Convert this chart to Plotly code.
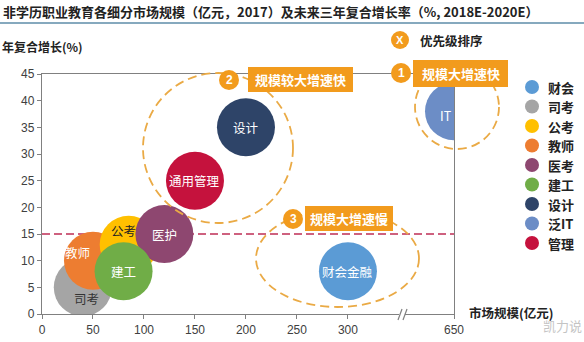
import plotly.graph_objects as go

# ---------------- data ----------------
legend_names = ["财会", "司考", "公考", "教师", "医考", "建工", "设计", "泛IT", "管理"]
bubble_labels = ["财会金融", "司考", "公考", "教师", "医护", "建工", "设计", "IT", "通用管理"]
market_size = [300, 40, 85, 50, 120, 80, 200, 650, 150]      # 亿元, 2017
cagr = [8, 5, 13, 10, 15, 8, 35, 38, 25]                     # %, 2018E-2020E
colors = ["#5B9BD5", "#A5A5A5", "#FFC000", "#ED7D31", "#8E4770",
          "#70AD47", "#2E4468", "#6C8DC6", "#C5123D"]
label_colors = ["white", "#333333", "#222222", "white", "white",
                "white", "white", "white", "white"]
x_ticks = [0, 50, 100, 150, 200, 250, 300, 650]
y_ticks = [0, 5, 10, 15, 20, 25, 30, 35, 40, 45]
threshold = 15
groups = ["规模大增速快", "规模较大增速快", "规模大增速慢"]
group_ranks = ["1", "2", "3"]

title_text = "非学历职业教育各细分市场规模（亿元，2017）及未来三年复合增长率（%, 2018E-2020E）"

# ---------------- layout constants ----------------
W, H = 584, 342
ML, MR, MT, MB = 42, 130, 74, 28
PW, PH = W - ML - MR, H - MT - MB
BREAK_START, BREAK_END, BREAK_SPAN = 350, 650, 54
FONT = "Noto Sans CJK SC"
ORANGE = "#F29B1D"
DASH_ORANGE = "#EAAA45"


def axis_pos(v):
    """broken x-axis: 350..650 squeezed into a short segment"""
    if v <= BREAK_START:
        return v
    return BREAK_START + (v - BREAK_START) * BREAK_SPAN / (BREAK_END - BREAK_START)


def px(x):
    return (x - ML) / PW


def py(y):
    return (H - MB - y) / PH


def note(x, y, text, size, color, family=FONT, xanchor="center", **kw):
    return dict(xref="paper", yref="paper", x=px(x), y=py(y), text=text,
                showarrow=False, xanchor=xanchor, yanchor="middle",
                font=dict(family=family, size=size, color=color), **kw)


draw_order = [1, 3, 2, 4, 5, 0, 6, 8, 7]
label_shift = {"公考": (-5, 14), "教师": (-15, 8), "司考": (4, -11), "IT": (-8, -4)}

fig = go.Figure()
for i in draw_order:
    fig.add_trace(go.Scatter(
        x=[axis_pos(market_size[i])], y=[cagr[i]], mode="markers",
        name=legend_names[i], showlegend=False,
        marker=dict(size=58, color=colors[i], line=dict(width=0)),
        cliponaxis=True, hoverinfo="name+y",
    ))

annotations = []
for i in range(len(bubble_labels)):
    dx, dy = label_shift.get(bubble_labels[i], (0, 0))
    annotations.append(dict(
        x=axis_pos(market_size[i]), y=cagr[i], xref="x", yref="y",
        xanchor="center", yanchor="middle",
        text=bubble_labels[i], showarrow=False, xshift=dx, yshift=dy,
        font=dict(family=FONT, size=12.5, color=label_colors[i]),
    ))

shapes = []
# threshold line
shapes.append(dict(type="line", xref="x", yref="y", x0=0, x1=axis_pos(650),
                   y0=threshold, y1=threshold, layer="below",
                   line=dict(color="#BE2E55", width=1.6, dash="8px,4px")))
# dashed group ellipses (pixel boxes)
for (x0, y0, x1, y1) in [(415, 65, 499, 149), (143, 73, 293, 223), (256, 210, 419, 307)]:
    shapes.append(dict(type="circle", xref="paper", yref="paper",
                       x0=px(x0), x1=px(x1), y0=py(y1), y1=py(y0),
                       line=dict(color=DASH_ORANGE, width=1.8, dash="9px,5px")))
# group label boxes and rank badges
boxes = [((413, 60, 508, 87), (401, 73)),
         ((248, 67, 353, 92), (229, 80)),
         ((305, 206, 393, 231), (293, 219))]
for k, ((bx0, by0, bx1, by1), (cx, cy)) in enumerate(boxes):
    shapes.append(dict(type="rect", xref="paper", yref="paper",
                       x0=px(bx0), x1=px(bx1), y0=py(by1), y1=py(by0),
                       fillcolor=ORANGE, line=dict(width=0)))
    shapes.append(dict(type="circle", xref="paper", yref="paper",
                       x0=px(cx - 10), x1=px(cx + 10), y0=py(cy + 10), y1=py(cy - 10),
                       fillcolor=ORANGE, line=dict(width=0)))
    annotations.append(note((bx0 + bx1) / 2, (by0 + by1) / 2, "<b>" + groups[k] + "</b>",
                            13, "white"))
    annotations.append(note(cx, cy, "<b>" + group_ranks[k] + "</b>", 12, "white",
                            family="Liberation Sans"))

# priority key
shapes.append(dict(type="circle", xref="paper", yref="paper",
                   x0=px(391), x1=px(409), y0=py(49), y1=py(31),
                   fillcolor=ORANGE, line=dict(width=0)))
annotations.append(note(400, 40, "<b>X</b>", 11, "white", family="Liberation Sans"))
annotations.append(note(418, 40, "<b>优先级排序</b>", 12.5, "#222222", xanchor="left"))

# manual legend
LEG_X, LEG_Y0, LEG_DY, LEG_R = 532, 87, 19.5, 7
for i, name in enumerate(legend_names):
    cy = LEG_Y0 + i * LEG_DY
    shapes.append(dict(type="circle", xref="paper", yref="paper",
                       x0=px(LEG_X - LEG_R), x1=px(LEG_X + LEG_R),
                       y0=py(cy + LEG_R), y1=py(cy - LEG_R),
                       fillcolor=colors[i], line=dict(width=0)))
    annotations.append(note(LEG_X + 14, cy, "<b>" + name + "</b>", 13, "#222222",
                            xanchor="left"))

# title + rule
annotations.append(note(1, 11, "<b>" + title_text + "</b>", 13, "#222222", xanchor="left"))
shapes.append(dict(type="line", xref="paper", yref="paper", x0=px(0), x1=px(584),
                   y0=py(23), y1=py(23), line=dict(color="#5E8DA8", width=1.5)))

# axis titles
annotations.append(note(0, 47, "<b>年复合增长(%)</b>", 12, "#222222", xanchor="left"))
annotations.append(note(467, 312, "<b>市场规模(亿元)</b>", 12.5, "#222222", xanchor="left"))
annotations.append(note(584, 325, "凯力说", 13, "#8A8A8A", xanchor="right", opacity=0.5))

# axis break marks
shapes.append(dict(type="rect", xref="paper", yref="paper", x0=px(399), x1=px(405),
                   y0=py(315.5), y1=py(312.5), fillcolor="white", line=dict(width=0)))
for sx in (398, 403):
    shapes.append(dict(type="line", xref="paper", yref="paper", x0=px(sx), x1=px(sx + 4),
                       y0=py(320), y1=py(309), line=dict(color="#808080", width=1.2)))

axis_style = dict(showline=True, linecolor="#808080", linewidth=1.3, mirror=True,
                  ticks="outside", ticklen=4, tickcolor="#808080", showgrid=False,
                  zeroline=False, automargin=False,
                  tickfont=dict(family="Liberation Sans", size=12, color="#404040"))

fig.update_layout(
    width=W, height=H, margin=dict(l=ML, r=MR, t=MT, b=MB, autoexpand=False),
    paper_bgcolor="white", plot_bgcolor="white",
    xaxis=dict(range=[0, axis_pos(650)], tickvals=[axis_pos(t) for t in x_ticks],
               ticktext=[str(t) for t in x_ticks], **axis_style),
    yaxis=dict(range=[0, 45], tickvals=y_ticks, **axis_style),
    showlegend=False,
    shapes=shapes, annotations=annotations,
)

fig.write_html("out.html")
